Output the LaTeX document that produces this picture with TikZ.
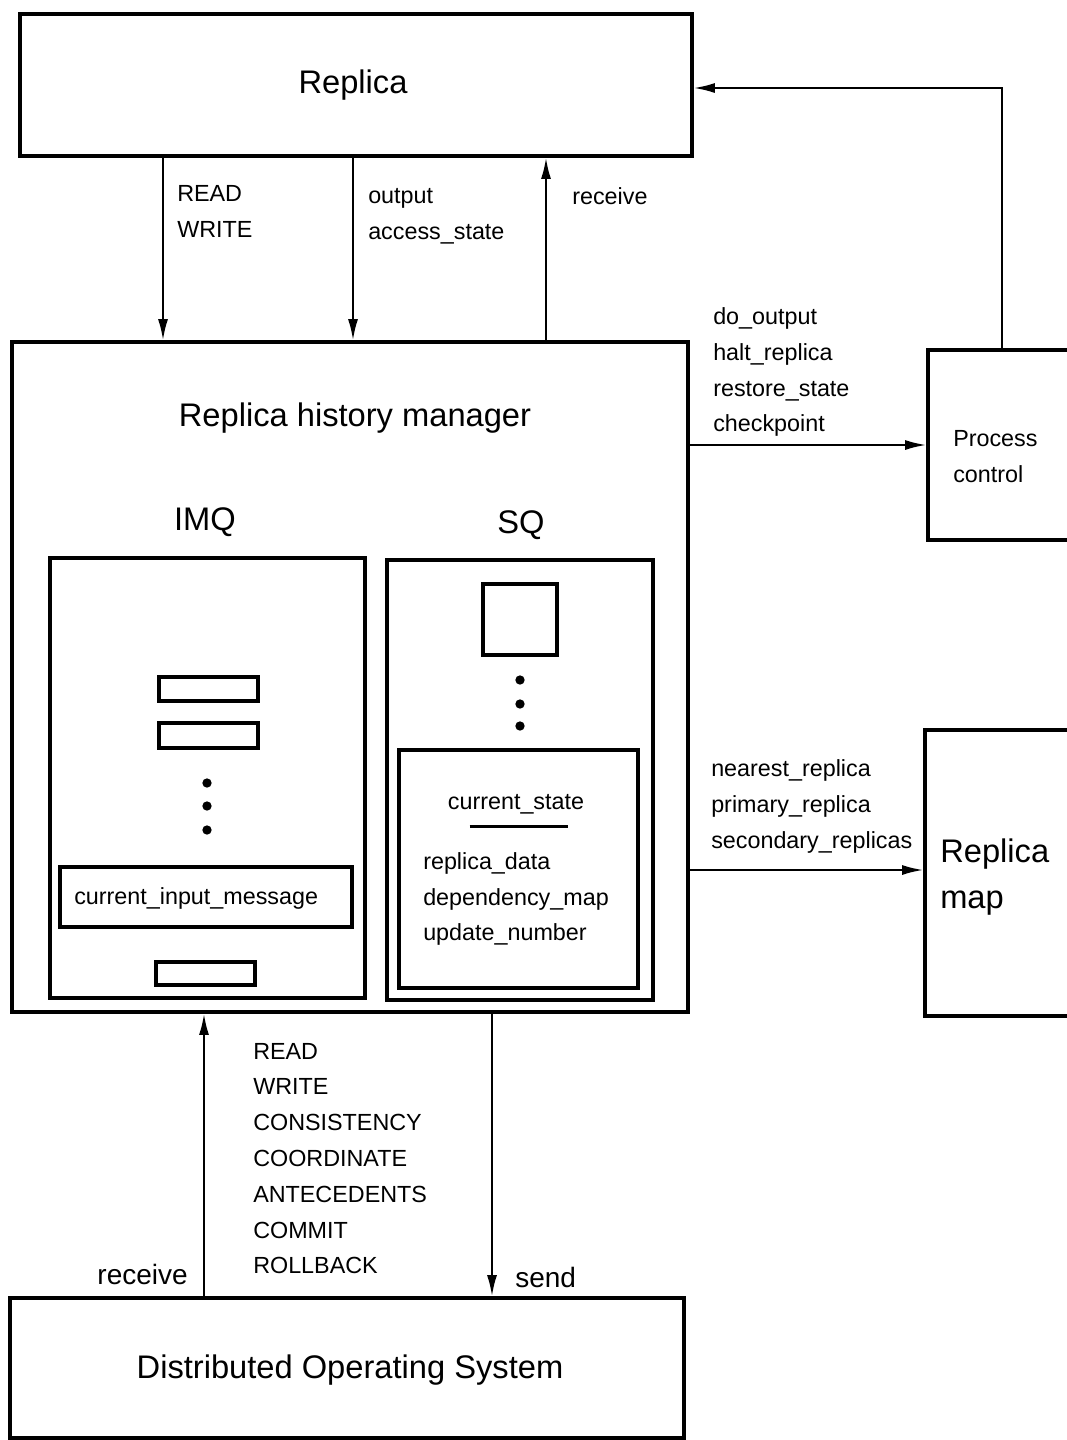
\documentclass[tikz,border=0pt]{standalone}
\usepackage{fontspec}
\setmainfont{Liberation Sans}
\usetikzlibrary{arrows.meta,fit}
\newcommand\lblsize{\fontsize{17.5}{21}\selectfont}
\newcommand\midsize{\fontsize{21}{25}\selectfont}
\newcommand\ttlsize{\fontsize{24.5}{29}\selectfont}
\begin{document}
\begin{tikzpicture}[x=0.75pt,y=-0.75pt,
  box/.style={draw, line width=2.3pt, inner sep=0pt, fit={#1}},
  conn/.style={line width=1.7pt, -{Latex[length=16pt,width=7.5pt]}},
  lbl/.style={font=\lblsize, inner sep=0pt, anchor=base west},
  ttl/.style={font=\ttlsize, inner sep=0pt},
  dot/.style={circle, fill, inner sep=0pt, minimum size=7pt}]
\clip (0,0) rectangle (1067,1440);
\fill[white] (0,0) rectangle (1067,1440);

% main blocks
\node[box={(20,14)(692,156)}] (replica) {};
\node[ttl] (replicat) at (353,85) {Replica};
\node[box={(12,342)(688,1012)}] (rhm) {};
\node[ttl] (rhmt) at (355,418) {Replica history manager};
\node[box={(928,350)(1090,540)}] (pc) {};
\node[lbl] (pct1) at (953,446) {Process};
\node[lbl] (pct2) at (953,482) {control};
\node[box={(925,730)(1090,1016)}] (rmap) {};
\node[ttl, anchor=base west] (rmapt1) at (940,862) {Replica};
\node[ttl, anchor=base west] (rmapt2) at (940,908) {map};
\node[box={(10,1298)(684,1438)}] (dos) {};
\node[ttl] (dost) at (350,1370) {Distributed Operating System};

% input message queue
\node[ttl] (imqt) at (205,522) {IMQ};
\node[box={(50,558)(365,998)}] (imq) {};
\node[box={(159,677)(258,701)}] (m1) {};
\node[box={(159,723)(258,748)}] (m2) {};
\node[dot] (d1) at (207,783) {};
\node[dot] (d2) at (207,806) {};
\node[dot] (d3) at (207,830) {};
\node[box={(60,867)(352,927)}] (cim) {};
\node[lbl] (cimt) at (74,904) {current\_input\_message};
\node[box={(156,962)(255,985)}] (m3) {};

% state queue
\node[ttl] (sqt) at (521,525) {SQ};
\node[box={(387,560)(653,1000)}] (sq) {};
\node[box={(483,584)(557,655)}] (s1) {};
\node[dot] (e1) at (520,680) {};
\node[dot] (e2) at (520,704) {};
\node[dot] (e3) at (520,726) {};
\node[box={(399,750)(638,988)}] (cs) {};
\node[lbl, anchor=base] (cst) at (516,809) {current\_state};
\draw[line width=2.3pt] (cst.south west) ++(22,13) coordinate (ul1) -- ++(98,0) coordinate (ul2);
\node[lbl] (cs1) at (423,869) {replica\_data};
\node[lbl] (cs2) at (423,905) {dependency\_map};
\node[lbl] (cs3) at (423,940) {update\_number};

% connectors between Replica and the history manager
\coordinate (xa) at (163,0);
\coordinate (xb) at (353,0);
\coordinate (xc) at (546,0);
\draw[conn] (replica.south -| xa) -- (rhm.north -| xa);
\draw[conn] (replica.south -| xb) -- (rhm.north -| xb);
\draw[conn] (rhm.north -| xc) -- (replica.south -| xc);
\node[lbl] (la1) at (177,201) {READ};
\node[lbl] (la2) at (177,237) {WRITE};
\node[lbl] (lb1) at (368,203) {output};
\node[lbl] (lb2) at (368,239) {access\_state};
\node[lbl] (lc1) at (572,204) {receive};

% process control
\coordinate (ypc) at (0,445);
\draw[conn] (rhm.east |- ypc) -- (pc.west |- ypc);
\coordinate (fb) at (1002,88);
\draw[conn] (pc.north -| fb) -- (fb) -- (replica.east |- fb);
\node[lbl] (lp1) at (713,324) {do\_output};
\node[lbl] (lp2) at (713,360) {halt\_replica};
\node[lbl] (lp3) at (713,396) {restore\_state};
\node[lbl] (lp4) at (713,431) {checkpoint};

% replica map
\coordinate (ymap) at (0,870);
\draw[conn] (rhm.east |- ymap) -- (rmap.west |- ymap);
\node[lbl] (lm1) at (711,776) {nearest\_replica};
\node[lbl] (lm2) at (711,812) {primary\_replica};
\node[lbl] (lm3) at (711,848) {secondary\_replicas};

% distributed operating system
\coordinate (xr) at (204,0);
\coordinate (xs) at (492,0);
\draw[conn] (dos.north -| xr) -- (rhm.south -| xr);
\draw[conn] (rhm.south -| xs) -- (dos.north -| xs);
\foreach \t [count=\i from 0] in {READ,WRITE,CONSISTENCY,COORDINATE,ANTECEDENTS,COMMIT,ROLLBACK}
  \node[lbl, name=lo\i] at (253,1059+35.8*\i) {\t};
\node[lbl, font=\midsize, anchor=base east] (lr) at (188,1284) {receive};
\node[lbl, font=\midsize] (ls) at (515,1287) {send};
\end{tikzpicture}
\end{document}
